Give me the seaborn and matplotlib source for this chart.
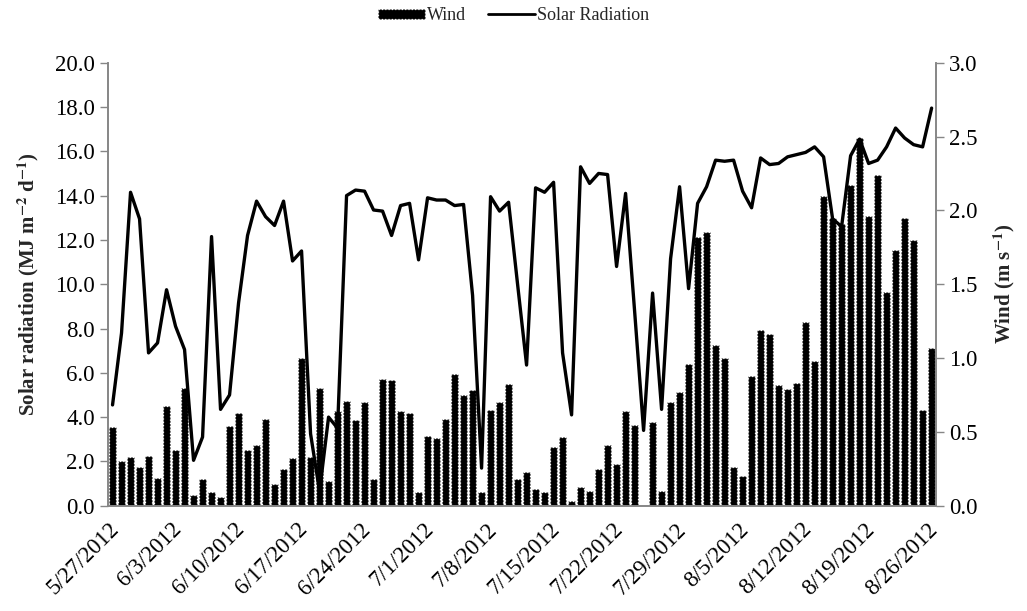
import pandas as pd
import matplotlib.pyplot as plt
from matplotlib.patches import Patch
from matplotlib.lines import Line2D
import seaborn as sns

# ---------- data (daily, 5/27/2012 - 8/26/2012) ----------
start_date = '2012-05-27'
solar = [4.55, 7.8, 14.15, 12.95, 6.9, 7.35, 9.75, 8.1, 7.05, 2.05,
         3.1, 12.15, 4.35, 5.0, 9.15, 12.2, 13.75, 13.05, 12.65, 13.75,
         11.05, 11.5, 3.25, 0.65, 4.0, 3.5, 14.0, 14.25, 14.2, 13.35,
         13.3, 12.2, 13.55, 13.65, 11.1, 13.9, 13.8, 13.8, 13.55, 13.6,
         9.5, 1.7, 13.95, 13.3, 13.7, 10.0, 6.35, 14.35, 14.15, 14.6,
         6.9, 4.1, 15.3, 14.55, 15.0, 14.95, 10.8, 14.1, 8.8, 3.4,
         9.6, 4.35, 11.15, 14.4, 9.8, 13.65, 14.4, 15.6, 15.55, 15.6,
         14.2, 13.45, 15.7, 15.4, 15.45, 15.75, 15.85, 15.95, 16.2, 15.75,
         12.95, 12.6, 15.8, 16.55, 15.45, 15.6, 16.2, 17.05, 16.6, 16.3,
         16.2, 17.95]
wind = [0.53, 0.30, 0.33, 0.26, 0.34, 0.19, 0.675, 0.38, 0.80, 0.07,
        0.18, 0.09, 0.06, 0.54, 0.63, 0.38, 0.41, 0.59, 0.15, 0.25,
        0.32, 1.00, 0.33, 0.80, 0.17, 0.64, 0.71, 0.58, 0.705, 0.18,
        0.86, 0.85, 0.64, 0.625, 0.095, 0.47, 0.46, 0.59, 0.89, 0.75,
        0.785, 0.09, 0.65, 0.70, 0.825, 0.18, 0.23, 0.11, 0.093, 0.40,
        0.465, 0.035, 0.125, 0.10, 0.25, 0.41, 0.28, 0.64, 0.55, 0.0,
        0.57, 0.10, 0.70, 0.77, 0.96, 1.82, 1.855, 1.09, 1.00, 0.26,
        0.20, 0.88, 1.19, 1.16, 0.815, 0.79, 0.83, 1.245, 0.98, 2.10,
        1.95, 1.91, 2.17, 2.49, 1.96, 2.24, 1.45, 1.73, 1.95, 1.80,
        0.65, 1.07]

dates = pd.date_range(start_date, periods=len(solar), freq='D')
df = pd.DataFrame({'date': dates, 'solar': solar, 'wind': wind})
# Excel date axis: each value sits in the middle of its day slot
df['day'] = (df['date'] - df['date'].iloc[0]).dt.days + 0.5

sns.set_style('white')
plt.rcParams['font.family'] = ['Liberation Serif', 'DejaVu Serif']
plt.rcParams['mathtext.fontset'] = 'stix'

grey = '#868686'

fig = plt.figure(figsize=(10.27, 6.11), dpi=100)
ax = fig.add_axes([0.1052, 0.1723, 0.8063, 0.7251])
ax2 = ax.twinx()

# wind bars on the secondary axis
sns.barplot(data=df, x='day', y='wind', native_scale=True, ax=ax2,
            color='black', width=0.72, saturation=1,
            edgecolor='white', linewidth=0.9, linestyle=':')
# solar radiation line on the primary axis, drawn above the bars
sns.lineplot(data=df, x='day', y='solar', ax=ax, color='black', linewidth=2.4)
ax.set_zorder(ax2.get_zorder() + 1)
ax.patch.set_visible(False)

n_days = len(solar)
ax.set_xlim(0, n_days)
ax.set_ylim(0, 20)
ax2.set_ylim(0, 3)
ax.set_yticks([v * 2.0 for v in range(11)])
ax2.set_yticks([v * 0.5 for v in range(7)])
ax.set_yticklabels([f'{v * 2.0:.1f}' for v in range(11)])
ax2.set_yticklabels([f'{v * 0.5:.1f}' for v in range(7)])

tick_pos = list(range(0, n_days, 7))
tick_lab = [f'{d.month}/{d.day}/{d.year}' for d in dates[::7]]
ax.set_xticks(tick_pos)
ax.set_xticklabels(tick_lab, rotation=45, ha='right', rotation_mode='anchor')
ax2.set_xlim(0, n_days)

for a in (ax, ax2):
    a.tick_params(axis='both', labelsize=16.5, colors='black', length=6,
                  width=1, direction='out')
    for side in ('left', 'right', 'bottom'):
        a.spines[side].set_color(grey)
        a.spines[side].set_linewidth(1.2)
    a.spines['top'].set_visible(False)
    a.tick_params(axis='both', color=grey)
ax.tick_params(axis='y', right=False)
ax2.tick_params(axis='y', left=False)

ax.set_xlabel('')
ax2.set_xlabel('')
ax.set_ylabel(r'Solar radiation (MJ m$^{\mathbf{-2}}$ d$^{\mathbf{-1}}$)',
              fontsize=15, fontweight='bold', labelpad=10)
ax2.set_ylabel(r'Wind (m s$^{\mathbf{-1}}$)', fontsize=15,
               fontweight='bold', rotation=90, labelpad=10)

handles = [Patch(facecolor='black', edgecolor='white', linestyle=':', linewidth=0.9),
           Line2D([0], [0], color='black', linewidth=2)]
fig.legend(handles, ['Wind', 'Solar Radiation'], loc='upper center',
           bbox_to_anchor=(0.5, 1.015), ncol=2, frameon=False, fontsize=13,
           handlelength=2.6, handleheight=0.5, columnspacing=1.2,
           handletextpad=0.1)

fig.savefig('out.png', dpi=100)
